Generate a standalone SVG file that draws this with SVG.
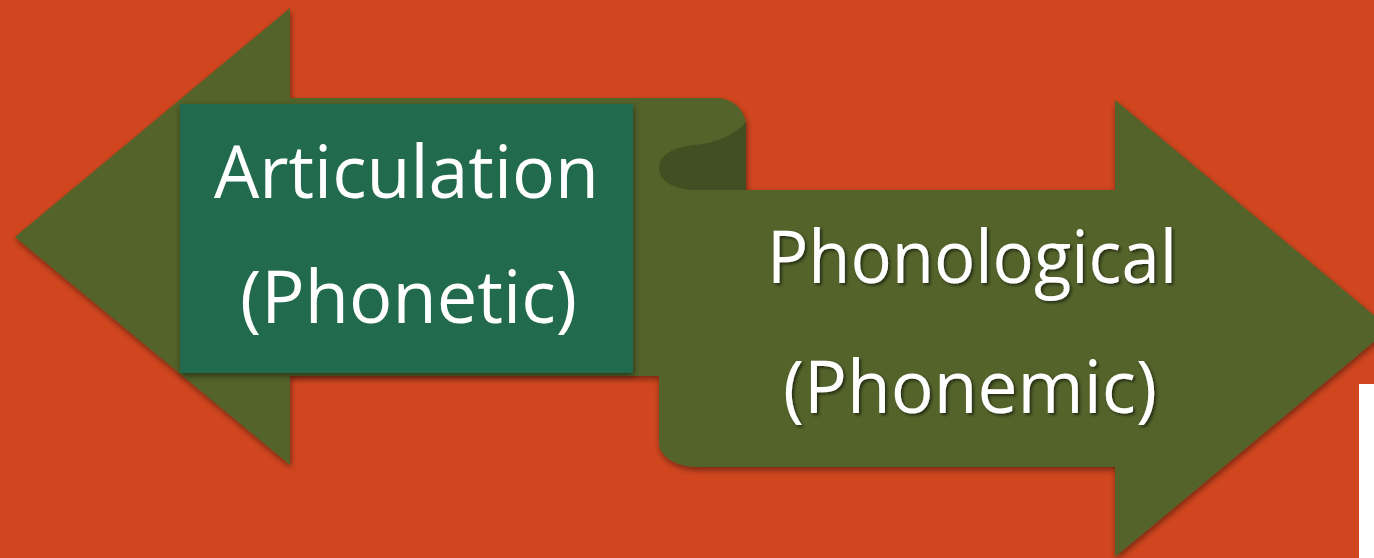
<svg xmlns="http://www.w3.org/2000/svg" width="1374" height="558" viewBox="0 0 1374 558">
  <defs>
    <style>
      .band { fill: #53632A; }
      .fold { fill: #414F22; }
      .card { fill: #236A4E; }
      .label { font-family: "Open Sans", "Noto Sans", "Liberation Sans", sans-serif; font-size: 73px; fill: #FFFFFF; text-anchor: middle; }
    </style>
    <filter id="shapeShadow" x="-5%" y="-5%" width="110%" height="115%">
      <feDropShadow dx="1" dy="3" stdDeviation="3" flood-color="#000000" flood-opacity="0.45"/>
    </filter>
    <filter id="textShadow" x="-5%" y="-20%" width="110%" height="140%">
      <feDropShadow dx="2" dy="2" stdDeviation="1.8" flood-color="#000000" flood-opacity="0.55"/>
    </filter>
  </defs>

  <!-- backdrop -->
  <rect x="0" y="0" width="1374" height="558" fill="#D1461F"/>
  <rect x="1359" y="384" width="15" height="174" fill="#FFFFFF"/>

  <!-- left-right ribbon: upper band points left, lower band points right -->
  <g id="ribbon">
    <path class="band" filter="url(#shapeShadow)"
          d="M15,237 L290,8 L290,98 L717,98 A29,28 0 0 1 746,126 L746,190 L1115,190 L1115,100 L1390,328.5 L1115,557 L1115,467 L697,467 A38,24 0 0 1 659,443 L659,376 L290,376 L290,465 Z"/>
    <!-- back face of the fold -->
    <path class="fold" d="M746,122 C735,135 716,143 695,145 C670,147 659,157 659,168 C659,182 675,190 697,190 L746,190 Z"/>
  </g>

  <!-- left label on its card -->
  <g id="articulation">
    <rect class="card" x="180" y="104" width="453" height="269" filter="url(#shapeShadow)"/>
    <text class="label" x="406.5" y="198" textLength="385" lengthAdjust="spacingAndGlyphs">Articulation</text>
    <text class="label" x="408.5" y="323" textLength="337" lengthAdjust="spacingAndGlyphs">(Phonetic)</text>
  </g>

  <!-- right label on the lower band -->
  <g id="phonological" filter="url(#textShadow)">
    <text class="label" x="972" y="283" textLength="410" lengthAdjust="spacingAndGlyphs">Phonological</text>
    <text class="label" x="970" y="413" textLength="374" lengthAdjust="spacingAndGlyphs">(Phonemic)</text>
  </g>
</svg>
